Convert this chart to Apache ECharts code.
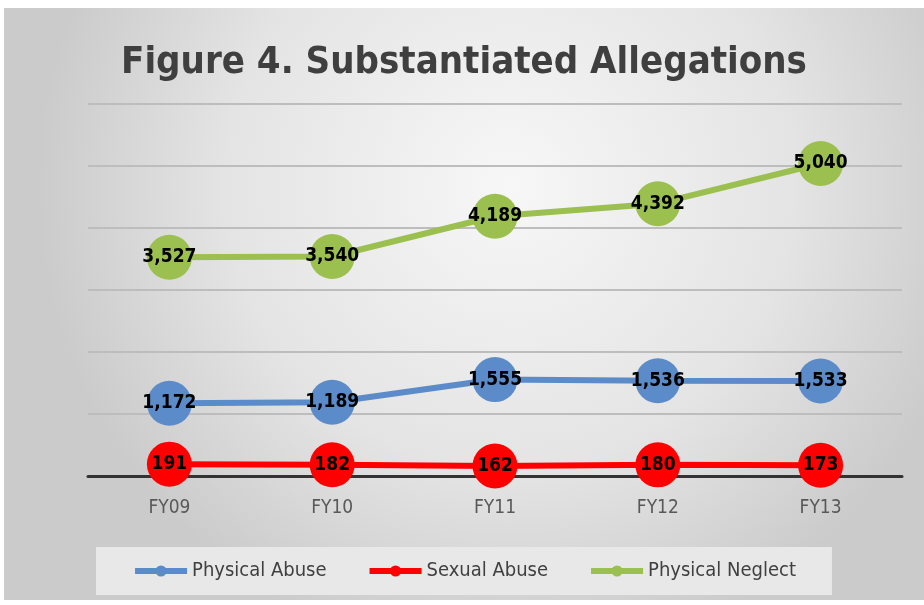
<!DOCTYPE html>
<html lang="en">
<head>
    <meta charset="UTF-8">
    <title>Figure 4. Substantiated Allegations</title>
    <script src="https://cdn.jsdelivr.net/npm/echarts@6/dist/echarts.min.js"></script>
    <style>
        body { margin: 0; background: #ffffff; }
        #main { position: absolute; left: 4px; top: 8px; width: 920px; height: 592px; }
    </style>
</head>
<body>
<div id="main"></div>
<script type="text/javascript">
    var years = ['FY09', 'FY10', 'FY11', 'FY12', 'FY13'];
    var physicalAbuse = [1172, 1189, 1555, 1536, 1533];
    var sexualAbuse = [191, 182, 162, 180, 173];
    var physicalNeglect = [3527, 3540, 4189, 4392, 5040];

    var narrow = '"Liberation Sans Narrow", "DejaVu Sans Condensed", sans-serif';

    function makeSeries(name, data, color) {
        return {
            name: name,
            type: 'line',
            data: data,
            symbol: 'circle',
            symbolSize: 45,
            itemStyle: { color: color },
            lineStyle: { color: color, width: 6 },
            label: {
                show: true,
                position: 'inside',
                color: '#000000',
                fontFamily: narrow,
                fontWeight: 'bold',
                fontSize: 19,
                formatter: function (p) { return p.value.toLocaleString('en-US'); }
            }
        };
    }

    var chart = echarts.init(document.getElementById('main'));
    var option = {
        backgroundColor: {
            type: 'radial', x: 0.55, y: 0.3, r: 0.8,
            colorStops: [
                { offset: 0, color: '#f7f7f7' },
                { offset: 0.6, color: '#e4e4e4' },
                { offset: 1, color: '#cbcbcb' }
            ]
        },
        title: {
            text: 'Figure 4. Substantiated Allegations',
            left: 'center',
            top: 31,
            textStyle: { fontFamily: narrow, fontSize: 38, fontWeight: 'bold', color: '#3f3f3f' }
        },
        legend: {
            bottom: 5,
            left: 'center',
            itemWidth: 52,
            itemHeight: 14,
            itemGap: 40,
            padding: [14, 36, 14, 36],
            backgroundColor: '#e8e8e8',
            lineStyle: { width: 6 },
            textStyle: { fontFamily: narrow, fontSize: 20, color: '#404040' },
            data: ['Physical Abuse', 'Sexual Abuse', 'Physical Neglect']
        },
        grid: { left: 84, right: 22, top: 96, bottom: 124 },
        xAxis: {
            type: 'category',
            data: years,
            axisLine: { lineStyle: { color: '#333333', width: 3 } },
            axisTick: { show: false },
            axisLabel: { color: '#595959', fontFamily: narrow, fontSize: 19, margin: 23 }
        },
        yAxis: {
            type: 'value',
            min: 0,
            max: 6000,
            interval: 1000,
            axisLabel: { show: false },
            axisLine: { show: false },
            axisTick: { show: false },
            splitLine: { lineStyle: { color: '#bdbdbd', width: 2 } }
        },
        series: [
            makeSeries('Physical Abuse', physicalAbuse, '#5b8cc9'),
            makeSeries('Sexual Abuse', sexualAbuse, '#ff0000'),
            makeSeries('Physical Neglect', physicalNeglect, '#9bc04f')
        ]
    };
    chart.setOption(option);
</script>
</body>
</html>
